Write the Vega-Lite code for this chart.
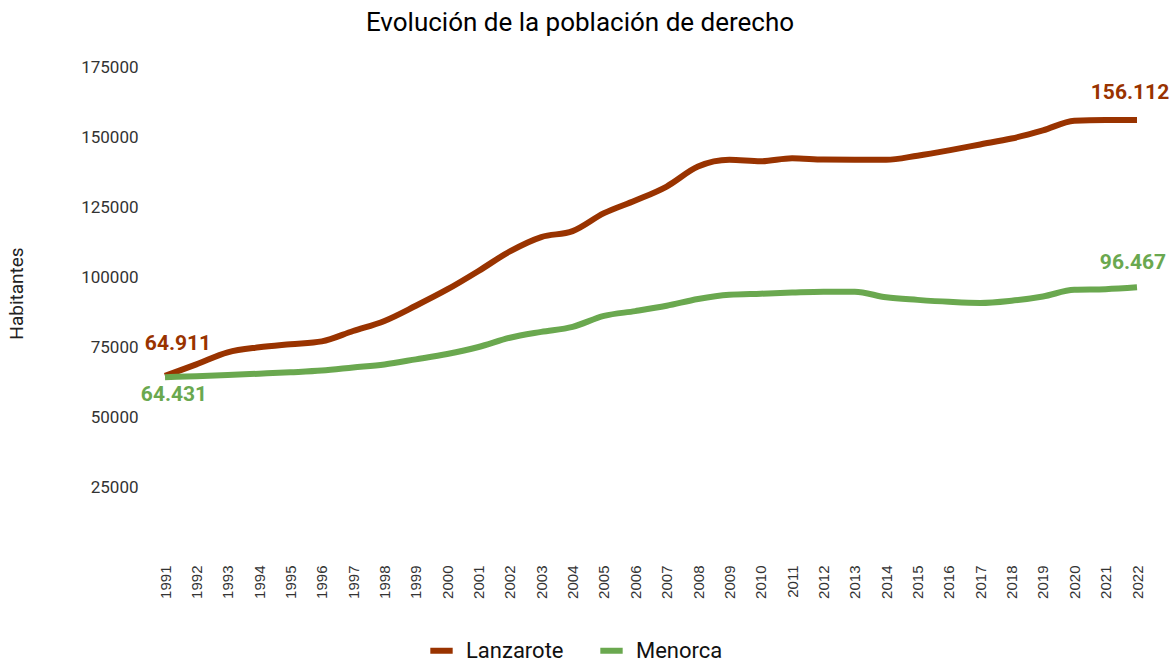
{
  "$schema": "https://vega.github.io/schema/vega-lite/v6.json",
  "width": 972,
  "height": 491,
  "autosize": {"type": "none"},
  "padding": {"left": 165, "top": 67, "right": 32, "bottom": 104},
  "background": "white",
  "title": {
    "text": "Evolución de la población de derecho",
    "font": "Roboto",
    "fontSize": 26,
    "fontWeight": "normal",
    "color": "#000000",
    "anchor": "middle",
    "dx": -71,
    "offset": 22
  },
  "config": {
    "view": {"stroke": null},
    "locale": {"number": {"decimal": ",", "thousands": ".", "grouping": [3], "currency": ["", " €"]}}
  },
  "data": {
    "values": [
      {"year": 1991, "isla": "Lanzarote", "hab": 64911},
      {"year": 1992, "isla": "Lanzarote", "hab": 69000},
      {"year": 1993, "isla": "Lanzarote", "hab": 73300},
      {"year": 1994, "isla": "Lanzarote", "hab": 75100},
      {"year": 1995, "isla": "Lanzarote", "hab": 76200},
      {"year": 1996, "isla": "Lanzarote", "hab": 77200},
      {"year": 1997, "isla": "Lanzarote", "hab": 80900},
      {"year": 1998, "isla": "Lanzarote", "hab": 84500},
      {"year": 1999, "isla": "Lanzarote", "hab": 89900},
      {"year": 2000, "isla": "Lanzarote", "hab": 95700},
      {"year": 2001, "isla": "Lanzarote", "hab": 102300},
      {"year": 2002, "isla": "Lanzarote", "hab": 109300},
      {"year": 2003, "isla": "Lanzarote", "hab": 114400},
      {"year": 2004, "isla": "Lanzarote", "hab": 116500},
      {"year": 2005, "isla": "Lanzarote", "hab": 122900},
      {"year": 2006, "isla": "Lanzarote", "hab": 127400},
      {"year": 2007, "isla": "Lanzarote", "hab": 132400},
      {"year": 2008, "isla": "Lanzarote", "hab": 139500},
      {"year": 2009, "isla": "Lanzarote", "hab": 141900},
      {"year": 2010, "isla": "Lanzarote", "hab": 141400},
      {"year": 2011, "isla": "Lanzarote", "hab": 142500},
      {"year": 2012, "isla": "Lanzarote", "hab": 142000},
      {"year": 2013, "isla": "Lanzarote", "hab": 141900},
      {"year": 2014, "isla": "Lanzarote", "hab": 141900},
      {"year": 2015, "isla": "Lanzarote", "hab": 143400},
      {"year": 2016, "isla": "Lanzarote", "hab": 145300},
      {"year": 2017, "isla": "Lanzarote", "hab": 147400},
      {"year": 2018, "isla": "Lanzarote", "hab": 149500},
      {"year": 2019, "isla": "Lanzarote", "hab": 152400},
      {"year": 2020, "isla": "Lanzarote", "hab": 155800},
      {"year": 2021, "isla": "Lanzarote", "hab": 156100},
      {"year": 2022, "isla": "Lanzarote", "hab": 156112},
      {"year": 1991, "isla": "Menorca", "hab": 64431},
      {"year": 1992, "isla": "Menorca", "hab": 64800},
      {"year": 1993, "isla": "Menorca", "hab": 65200},
      {"year": 1994, "isla": "Menorca", "hab": 65700},
      {"year": 1995, "isla": "Menorca", "hab": 66200},
      {"year": 1996, "isla": "Menorca", "hab": 66800},
      {"year": 1997, "isla": "Menorca", "hab": 67900},
      {"year": 1998, "isla": "Menorca", "hab": 69000},
      {"year": 1999, "isla": "Menorca", "hab": 70800},
      {"year": 2000, "isla": "Menorca", "hab": 72700},
      {"year": 2001, "isla": "Menorca", "hab": 75200},
      {"year": 2002, "isla": "Menorca", "hab": 78500},
      {"year": 2003, "isla": "Menorca", "hab": 80600},
      {"year": 2004, "isla": "Menorca", "hab": 82400},
      {"year": 2005, "isla": "Menorca", "hab": 86300},
      {"year": 2006, "isla": "Menorca", "hab": 88000},
      {"year": 2007, "isla": "Menorca", "hab": 89900},
      {"year": 2008, "isla": "Menorca", "hab": 92300},
      {"year": 2009, "isla": "Menorca", "hab": 93800},
      {"year": 2010, "isla": "Menorca", "hab": 94200},
      {"year": 2011, "isla": "Menorca", "hab": 94600},
      {"year": 2012, "isla": "Menorca", "hab": 94900},
      {"year": 2013, "isla": "Menorca", "hab": 94900},
      {"year": 2014, "isla": "Menorca", "hab": 92900},
      {"year": 2015, "isla": "Menorca", "hab": 92000},
      {"year": 2016, "isla": "Menorca", "hab": 91300},
      {"year": 2017, "isla": "Menorca", "hab": 90900},
      {"year": 2018, "isla": "Menorca", "hab": 91700},
      {"year": 2019, "isla": "Menorca", "hab": 93200},
      {"year": 2020, "isla": "Menorca", "hab": 95600},
      {"year": 2021, "isla": "Menorca", "hab": 95800},
      {"year": 2022, "isla": "Menorca", "hab": 96467}
    ]
  },
  "encoding": {
    "x": {
      "field": "year",
      "type": "ordinal",
      "scale": {"type": "point", "padding": 0},
      "axis": {
        "title": null,
        "domain": false,
        "ticks": false,
        "grid": false,
        "labelAngle": -90,
        "labelAlign": "right",
        "labelBaseline": "middle",
        "labelPadding": 7,
        "labelFont": "Liberation Sans",
        "labelFontSize": 15,
        "labelColor": "#333333"
      }
    },
    "y": {
      "field": "hab",
      "type": "quantitative",
      "scale": {"domain": [0, 175000], "nice": false, "zero": true},
      "axis": {
        "title": "Habitantes",
        "titleFont": "Roboto",
        "titleFontSize": 19,
        "titleFontWeight": "normal",
        "titleColor": "#222222",
        "titleX": -149,
        "titleY": 226,
        "titleAngle": -90,
        "titleAlign": "center",
        "titleBaseline": "middle",
        "values": [25000, 50000, 75000, 100000, 125000, 150000, 175000],
        "format": "d",
        "domain": false,
        "ticks": false,
        "grid": false,
        "labelPadding": 27,
        "labelFont": "Roboto",
        "labelFontSize": 17,
        "labelColor": "#333333"
      }
    }
  },
  "layer": [
    {
      "mark": {"type": "line", "interpolate": "monotone", "strokeWidth": 6, "strokeCap": "butt"},
      "encoding": {
        "color": {
          "field": "isla",
          "type": "nominal",
          "scale": {"domain": ["Lanzarote", "Menorca"], "range": ["#993300", "#6aa84f"]},
          "legend": {
            "title": null,
            "orient": "none",
            "direction": "horizontal",
            "legendX": 262,
            "legendY": 569,
            "symbolType": "stroke",
            "symbolSize": 500,
            "symbolStrokeWidth": 6,
            "labelFont": "Roboto",
            "labelFontSize": 22,
            "labelColor": "#111111",
            "labelOffset": 10,
            "columnPadding": 24
          }
        }
      }
    },
    {
      "transform": [{"filter": "datum.isla == 'Lanzarote' && datum.year == 1991"}],
      "mark": {"type": "text", "font": "Roboto", "fontSize": 21, "fontWeight": "bold", "color": "#993300", "dx": 13, "dy": -32},
      "encoding": {"text": {"field": "hab", "type": "quantitative", "format": ",d"}}
    },
    {
      "transform": [{"filter": "datum.isla == 'Lanzarote' && datum.year == 2022"}],
      "mark": {"type": "text", "font": "Roboto", "fontSize": 21, "fontWeight": "bold", "color": "#993300", "dx": -7, "dy": -27},
      "encoding": {"text": {"field": "hab", "type": "quantitative", "format": ",d"}}
    },
    {
      "transform": [{"filter": "datum.isla == 'Menorca' && datum.year == 1991"}],
      "mark": {"type": "text", "font": "Roboto", "fontSize": 21, "fontWeight": "bold", "color": "#6aa84f", "dx": 9, "dy": 18},
      "encoding": {"text": {"field": "hab", "type": "quantitative", "format": ",d"}}
    },
    {
      "transform": [{"filter": "datum.isla == 'Menorca' && datum.year == 2022"}],
      "mark": {"type": "text", "font": "Roboto", "fontSize": 21, "fontWeight": "bold", "color": "#6aa84f", "dx": -4, "dy": -24},
      "encoding": {"text": {"field": "hab", "type": "quantitative", "format": ",d"}}
    }
  ]
}
